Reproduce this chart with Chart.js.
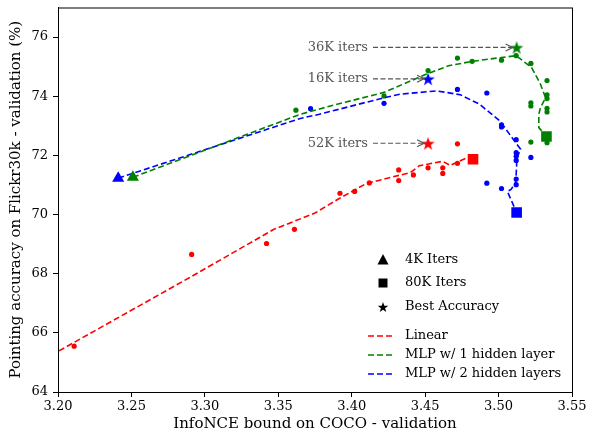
<!DOCTYPE html>
<html>
<head>
<meta charset="utf-8">
<script src="https://cdn.jsdelivr.net/npm/chart.js@4.4.1/dist/chart.umd.min.js"></script>
<style>
  html, body { margin: 0; padding: 0; background: #fff; }
  canvas { display: block; }
</style>
</head>
<body>
<canvas id="chart" width="589" height="433"></canvas>
<script>
// axis ticks
const xTicks = [3.20, 3.25, 3.30, 3.35, 3.40, 3.45, 3.50, 3.55];
const yTicks = [64, 66, 68, 70, 72, 74, 76];

// Linear probe: checkpoints
const linearX = [3.211, 3.291, 3.342, 3.361, 3.392, 3.402, 3.412, 3.432, 3.432, 3.442, 3.452, 3.462, 3.462, 3.472, 3.472];
const linearY = [65.55, 68.65, 69.02, 69.50, 70.72, 70.78, 71.07, 71.51, 71.15, 71.34, 71.58, 71.58, 71.39, 71.73, 72.39];
// smoothed curve
const linearFitX = [3.19, 3.21, 3.29, 3.347, 3.375, 3.39, 3.41, 3.44, 3.446, 3.462, 3.467, 3.473, 3.479, 3.4826];
const linearFitY = [65.09, 65.65, 67.88, 69.50, 70.05, 70.50, 71.05, 71.42, 71.65, 71.80, 71.66, 71.80, 71.93, 71.87];
const linearEnd = [3.4826, 71.87];
const linearBest = [3.452, 72.41];

// MLP w/ 1 hidden layer
const mlp1X = [3.362, 3.422, 3.452, 3.472, 3.482, 3.502, 3.512, 3.522, 3.533, 3.533, 3.533, 3.522, 3.522, 3.533, 3.533, 3.522, 3.533];
const mlp1Y = [73.53, 74.01, 74.87, 75.29, 75.18, 75.22, 75.37, 75.11, 74.53, 74.05, 73.92, 73.78, 73.67, 73.59, 73.47, 72.45, 72.43];
const mlp1FitX = [3.251, 3.365, 3.3855, 3.422, 3.451, 3.466, 3.482, 3.502, 3.512, 3.5225, 3.5285, 3.532, 3.5285, 3.5274, 3.5274, 3.5326];
const mlp1FitY = [71.26, 73.39, 73.67, 74.13, 74.75, 75.03, 75.18, 75.31, 75.37, 74.97, 74.41, 73.95, 73.61, 73.39, 72.94, 72.64];
const mlp1Start = [3.251, 71.26];
const mlp1End = [3.5326, 72.64];
const mlp1Best = [3.5123, 75.65];

// MLP w/ 2 hidden layers
const mlp2X = [3.372, 3.422, 3.472, 3.492, 3.502, 3.502, 3.512, 3.512, 3.512, 3.512, 3.522, 3.512, 3.512, 3.492, 3.502];
const mlp2Y = [73.58, 73.76, 74.23, 74.11, 73.03, 72.96, 72.53, 72.09, 71.97, 71.83, 71.93, 71.20, 71.01, 71.06, 70.88];
const mlp2FitX = [3.241, 3.365, 3.378, 3.422, 3.433, 3.458, 3.474, 3.487, 3.501, 3.5125, 3.515, 3.5125, 3.512, 3.5115, 3.5085, 3.506, 3.5123];
const mlp2FitY = [71.23, 73.25, 73.39, 73.95, 74.07, 74.18, 74.05, 73.73, 73.16, 72.37, 72.21, 71.92, 71.36, 71.07, 70.85, 70.78, 70.07];
const mlp2Start = [3.241, 71.23];
const mlp2End = [3.5123, 70.07];
const mlp2Best = [3.452, 74.59];

const markerLabels = ['4K Iters', '80K Iters', 'Best Accuracy'];
const annoLabels = ['36K iters', '16K iters', '52K iters'];
const annoTargets = [mlp1Best, mlp2Best, linearBest];
const annoTextX = 3.37;

const RED = '#ff0000', GREEN = '#008000', BLUE = '#0000ff';

function zip(xs, ys) {
  return xs.map((x, i) => ({ x: x, y: ys[i] }));
}

function starPath(g, cx, cy, r) {
  g.beginPath();
  for (let i = 0; i < 10; i++) {
    const rad = i % 2 ? r * 0.4 : r;
    const a = -Math.PI / 2 + i * Math.PI / 5;
    g.lineTo(cx + rad * Math.cos(a), cy + rad * Math.sin(a));
  }
  g.closePath();
}

function starCanvas(color, r) {
  const c = document.createElement('canvas');
  const s = Math.ceil(r * 2 + 2);
  c.width = s; c.height = s;
  const g = c.getContext('2d');
  g.fillStyle = color;
  starPath(g, s / 2, s / 2 + 0.8, r);
  g.fill();
  return c;
}

function marker(label, pt, color, style, radius) {
  return {
    label: label,
    data: [{ x: pt[0], y: pt[1] }],
    showLine: false,
    pointStyle: style,
    pointRadius: radius,
    pointBackgroundColor: color,
    pointBorderColor: color,
    pointBorderWidth: 0
  };
}

function dots(label, xs, ys, color) {
  return {
    label: label,
    data: zip(xs, ys),
    showLine: false,
    pointRadius: 2.6,
    pointBackgroundColor: color,
    pointBorderWidth: 0
  };
}

function fit(label, xs, ys, color) {
  return {
    label: label,
    data: zip(xs, ys),
    showLine: true,
    borderColor: color,
    borderWidth: 1.6,
    borderDash: [6, 3],
    pointRadius: 0,
    fill: false,
    tension: 0
  };
}

// annotations, frame and legend
const extras = {
  id: 'extras',
  afterDraw(chart) {
    const ctx = chart.ctx;
    const xs = chart.scales.x, ys = chart.scales.y;
    const area = chart.chartArea;

    // frame
    ctx.save();
    ctx.strokeStyle = '#000';
    ctx.lineWidth = 1;
    ctx.strokeRect(area.left + 0.5, area.top + 0.5, area.right - area.left, area.bottom - area.top);
    ctx.restore();

    // "NNK iters" arrows
    ctx.save();
    ctx.font = '13px "DejaVu Serif"';
    ctx.textAlign = 'left';
    ctx.textBaseline = 'middle';
    annoLabels.forEach((txt, i) => {
      const t = annoTargets[i];
      const tx = xs.getPixelForValue(annoTextX);
      const py = ys.getPixelForValue(t[1]);
      const ex = xs.getPixelForValue(t[0]) - 4;
      ctx.fillStyle = '#555';
      ctx.fillText(txt, tx, py);
      const sx = tx + ctx.measureText(txt).width + 5;
      ctx.strokeStyle = '#555';
      ctx.lineWidth = 1.2;
      ctx.setLineDash([5, 2.5]);
      ctx.beginPath();
      ctx.moveTo(sx, py);
      ctx.lineTo(ex, py);
      ctx.stroke();
      ctx.setLineDash([]);
      ctx.beginPath();
      ctx.moveTo(ex - 7, py - 3.5);
      ctx.lineTo(ex, py);
      ctx.lineTo(ex - 7, py + 3.5);
      ctx.stroke();
    });
    ctx.restore();

    // legend
    ctx.save();
    ctx.font = '13px "DejaVu Serif"';
    ctx.textAlign = 'left';
    ctx.textBaseline = 'middle';
    ctx.fillStyle = '#000';
    const textX = area.right - 167;
    const mx = area.right - 189;
    const rows = [area.bottom - 132, area.bottom - 109, area.bottom - 85];
    markerLabels.forEach((txt, i) => {
      const y = rows[i];
      ctx.fillStyle = '#000';
      ctx.beginPath();
      if (i === 0) {
        ctx.moveTo(mx, y - 6);
        ctx.lineTo(mx + 5.5, y + 4.5);
        ctx.lineTo(mx - 5.5, y + 4.5);
        ctx.closePath();
      } else if (i === 1) {
        ctx.rect(mx - 4.5, y - 4.5, 9, 9);
      } else {
        starPath(ctx, mx, y + 0.5, 5.5);
      }
      ctx.fill();
      ctx.fillText(txt, textX, y);
    });
    const lineRows = [area.bottom - 56, area.bottom - 37, area.bottom - 18];
    const lineSets = [chart.data.datasets[8], chart.data.datasets[9], chart.data.datasets[10]];
    lineSets.forEach((ds, i) => {
      const y = lineRows[i];
      ctx.strokeStyle = ds.borderColor;
      ctx.lineWidth = 1.6;
      ctx.setLineDash([6, 3]);
      ctx.beginPath();
      ctx.moveTo(textX - 37, y);
      ctx.lineTo(textX - 11, y);
      ctx.stroke();
      ctx.setLineDash([]);
      ctx.fillStyle = '#000';
      ctx.fillText(ds.label, textX, y);
    });
    ctx.restore();
  }
};

Chart.defaults.font.family = '"DejaVu Serif", serif';
Chart.defaults.color = '#000';

new Chart(document.getElementById('chart'), {
  type: 'scatter',
  data: {
    datasets: [
      marker('best-mlp1', mlp1Best, GREEN, starCanvas(GREEN, 7), 7),
      marker('best-mlp2', mlp2Best, BLUE, starCanvas(BLUE, 7), 7),
      marker('best-linear', linearBest, RED, starCanvas(RED, 7), 7),
      marker('end-linear', linearEnd, RED, 'rect', 7.5),
      marker('end-mlp1', mlp1End, GREEN, 'rect', 7.5),
      marker('end-mlp2', mlp2End, BLUE, 'rect', 7.5),
      marker('start-mlp1', mlp1Start, GREEN, 'triangle', 7),
      marker('start-mlp2', mlp2Start, BLUE, 'triangle', 7),
      fit('Linear', linearFitX, linearFitY, RED),
      fit('MLP w/ 1 hidden layer', mlp1FitX, mlp1FitY, GREEN),
      fit('MLP w/ 2 hidden layers', mlp2FitX, mlp2FitY, BLUE),
      dots('pts-linear', linearX, linearY, RED),
      dots('pts-mlp1', mlp1X, mlp1Y, GREEN),
      dots('pts-mlp2', mlp2X, mlp2Y, BLUE)
    ]
  },
  options: {
    responsive: false,
    animation: false,
    layout: { padding: { top: 7, right: 17, left: 0, bottom: 0 } },
    plugins: {
      legend: { display: false },
      tooltip: { enabled: false }
    },
    scales: {
      x: {
        type: 'linear',
        min: 3.20,
        max: 3.55,
        afterFit: s => { s.height = 41; s.paddingLeft = 0; s.paddingRight = 0; },
        afterBuildTicks: s => { s.ticks = xTicks.map(v => ({ value: v })); },
        ticks: {
          font: { size: 13 },
          padding: 2,
          maxRotation: 0,
          callback: v => v.toFixed(2)
        },
        grid: { display: true, drawOnChartArea: false, drawTicks: true, tickLength: 5, color: '#000' },
        border: { display: true, color: '#000' },
        title: {
          display: true,
          text: 'InfoNCE bound on COCO - validation',
          font: { size: 15 },
          padding: { top: 0, bottom: 0 }
        }
      },
      y: {
        type: 'linear',
        min: 64,
        max: 77,
        afterFit: s => { s.width = 58; s.paddingTop = 0; s.paddingBottom = 0; },
        afterBuildTicks: s => { s.ticks = yTicks.map(v => ({ value: v })); },
        ticks: {
          font: { size: 13 },
          padding: 5,
          callback: v => String(v)
        },
        grid: { display: true, drawOnChartArea: false, drawTicks: true, tickLength: 5, color: '#000' },
        border: { display: true, color: '#000' },
        title: {
          display: true,
          text: 'Pointing accuracy on Flickr30k - validation (%)',
          font: { size: 15 },
          padding: { top: 7, bottom: 0 }
        }
      }
    }
  },
  plugins: [extras]
});
</script>
</body>
</html>
